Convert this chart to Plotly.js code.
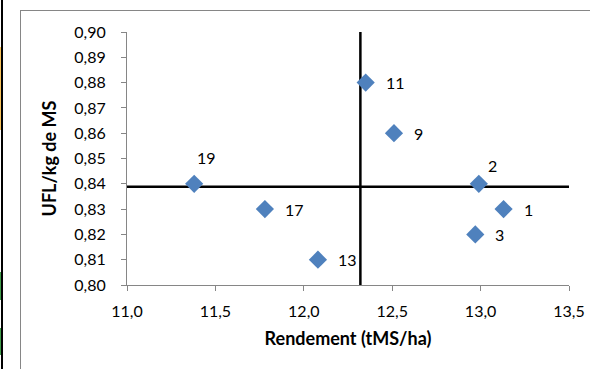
<!DOCTYPE html>
<html>
<head>
<meta charset="utf-8">
<script src="https://cdn.plot.ly/plotly-3.0.1.min.js"></script>
<style>
  html, body { margin: 0; padding: 0; background: #fff; }
  #wrap { position: relative; width: 590px; height: 369px; overflow: hidden; }
  #chart { position: absolute; left: 0; top: 0; width: 590px; height: 369px; }
  #frame { position: absolute; left: 20px; top: 10px; width: 600px; height: 400px; border: 1px solid #868686; pointer-events: none; }
  .cell { position: absolute; left: 0; width: 2px; }
  #cellline { position: absolute; left: 1px; top: 0; width: 2px; height: 369px; background: #000; }
</style>
</head>
<body>
<div id="wrap">
  <div id="chart"></div>
  <div id="frame"></div>
  <div class="cell" style="top:47px;height:83px;background:#F9C35A;"></div>
  <div class="cell" style="top:272px;height:28px;background:#3F9C4A;"></div>
  <div class="cell" style="top:328px;height:27px;background:#3F9C4A;"></div>
  <div id="cellline"></div>
</div>
<script>
// Data
const labels = ["1", "2", "3", "9", "11", "13", "17", "19"];
const rendement = [13.13, 12.99, 12.97, 12.51, 12.35, 12.08, 11.78, 11.38];
const ufl = [0.83, 0.84, 0.82, 0.86, 0.88, 0.81, 0.83, 0.84];
const meanX = 12.32;
const meanY = 0.8388;
const xRange = [11.0, 13.5];
const yRange = [0.80, 0.90];

// Label placement style (pixel shifts)
const aboveLabels = {"2": [14, 18], "19": [12, 26]};

const FONT = "Lato, 'Open Sans', sans-serif";

const traces = [
  {
    x: [meanX, meanX], y: yRange, mode: "lines", type: "scatter",
    line: {color: "#000", width: 2.5}, hoverinfo: "skip", showlegend: false, cliponaxis: false
  },
  {
    x: xRange, y: [meanY, meanY], mode: "lines", type: "scatter",
    line: {color: "#000", width: 2.5}, hoverinfo: "skip", showlegend: false, cliponaxis: false
  },
  {
    x: rendement, y: ufl, mode: "markers", type: "scatter",
    marker: {symbol: "diamond", size: 14, color: "#4F81BD", line: {width: 0}},
    showlegend: false, cliponaxis: false
  }
];

const annotations = labels.map((lab, i) => {
  const above = aboveLabels[lab];
  if (above) {
    return {x: rendement[i], y: ufl[i], xref: "x", yref: "y", text: lab, showarrow: false,
      xanchor: "center", yanchor: "middle", xshift: above[0], yshift: above[1],
      font: {family: FONT, size: 16, color: "#000"}};
  }
  return {x: rendement[i], y: ufl[i], xref: "x", yref: "y", text: lab, showarrow: false,
    xanchor: "left", yanchor: "middle", xshift: 18, yshift: 0,
    font: {family: FONT, size: 16, color: "#000"}};
});

const layout = {
  width: 590, height: 369,
  margin: {l: 127, r: 21, t: 32, b: 84, pad: 0},
  paper_bgcolor: "rgba(0,0,0,0)", plot_bgcolor: "rgba(0,0,0,0)",
  separators: ",.",
  font: {family: FONT, size: 16, color: "#000"},
  showlegend: false,
  xaxis: {
    range: xRange, dtick: 0.5, tick0: 11, tickformat: ".1f",
    showgrid: false, zeroline: false, showline: true, linecolor: "#868686", linewidth: 1,
    ticks: "outside", ticklen: 5, tickcolor: "#868686", tickwidth: 1,
    ticklabelstandoff: 7,
    tickfont: {family: FONT, size: 16, color: "#000"},
    title: {text: "<b>Rendement (tMS/ha)</b>", font: {family: FONT, size: 18, color: "#000"}, standoff: 13}
  },
  yaxis: {
    range: yRange, dtick: 0.01, tick0: 0.8, tickformat: ".2f",
    showgrid: false, zeroline: false, showline: true, linecolor: "#868686", linewidth: 1,
    ticks: "outside", ticklen: 5, tickcolor: "#868686", tickwidth: 1,
    ticklabelstandoff: 12,
    tickfont: {family: FONT, size: 16, color: "#000"},
    title: {text: "<b>UFL/kg de MS</b>", font: {family: FONT, size: 18, color: "#000"}, standoff: 13}
  },
  annotations: annotations
};

Plotly.newPlot("chart", traces, layout, {staticPlot: true, displayModeBar: false});
</script>
</body>
</html>
